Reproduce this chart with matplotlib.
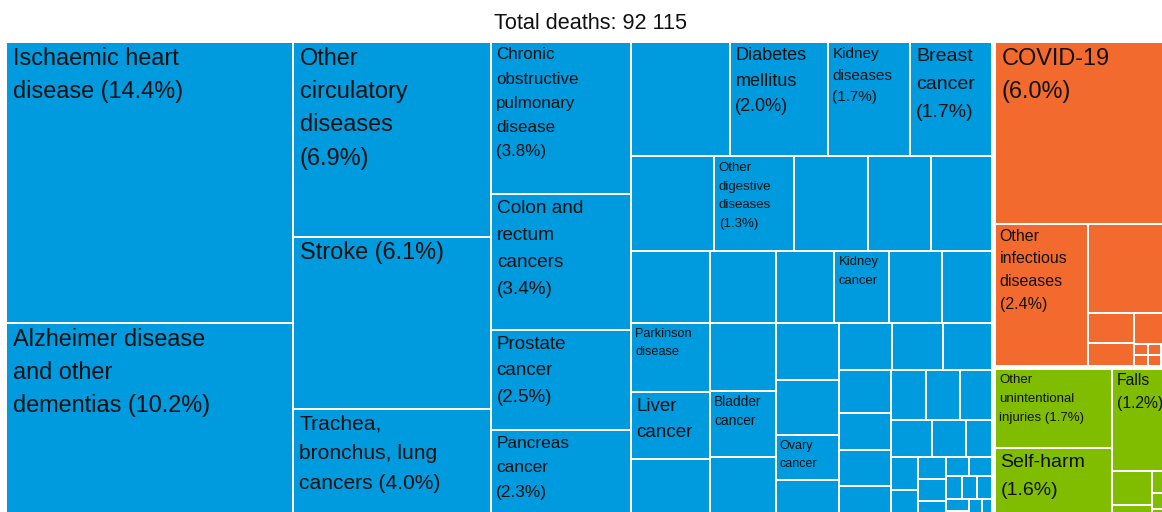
import matplotlib
matplotlib.use("Agg")
import matplotlib.pyplot as plt
from matplotlib.patches import Rectangle
from matplotlib.font_manager import FontProperties

# ---------------- data (share of total deaths, %) ----------------
total_deaths = 92115

group_names = ["Noncommunicable diseases",
               "Communicable, maternal, perinatal and nutritional conditions",
               "Injuries"]
group_colors = ["#009ADE", "#F26A2E", "#80BC00"]

# "" = cause whose name is not displayed in the chart
ncd_causes = [
    "Ischaemic heart disease", "Alzheimer disease and other dementias",
    "Other circulatory diseases", "Stroke", "Trachea, bronchus, lung cancers",
    "Chronic obstructive pulmonary disease", "Colon and rectum cancers",
    "Prostate cancer", "Pancreas cancer",
    "", "Diabetes mellitus", "Kidney diseases", "Breast cancer",
    "", "Other digestive diseases", "", "", "",
    "", "Parkinson disease", "Liver cancer", "",
    "", "", "Bladder cancer", "",
    "", "Kidney cancer", "", "",
    "", "", "Ovary cancer", "",
    "", "", "",
    "", "", "", "",
    "", "", "",
    "", "", "",
    "", "",
    "", "", "",
    "", "",
    "", "", "",
    "", "", "", "", "",
]
ncd_share = [
    14.4, 10.2, 6.9, 6.1, 4.0, 3.8, 3.4, 2.5, 2.3,
    2.02, 2.0, 1.69, 1.66,
    1.41, 1.34, 1.25, 1.06, 1.03,
    1.01, 0.97, 0.94, 0.89,
    0.85, 0.80, 0.78, 0.765,
    0.76, 0.71, 0.68, 0.645,
    0.635, 0.63, 0.51, 0.47,
    0.445, 0.425, 0.40,
    0.395, 0.345, 0.34, 0.33,
    0.32, 0.30, 0.284,
    0.27, 0.22, 0.168,
    0.164, 0.159,
    0.111, 0.107, 0.106,
    0.081, 0.080,
    0.062, 0.060, 0.058,
    0.050, 0.045, 0.040, 0.030, 0.025,
]

cmpn_causes = ["COVID-19", "Other infectious diseases", "", "", "", "", "",
               "", "", "", "", "", "", "", ""]
cmpn_share = [6.0, 2.4, 1.42, 0.258, 0.19, 0.16, 0.077,
              0.027, 0.026, 0.025, 0.024, 0.020, 0.015, 0.013, 0.012]

inj_causes = ["Other unintentional injuries", "Self-harm", "Falls",
              "", "", "", "", ""]
inj_share = [1.7, 1.6, 1.2, 0.25, 0.125, 0.098, 0.07, 0.059]

# ---------------- layout / style settings ----------------
W_PX, H_PX, DPI = 1162, 512, 100
PLOT_BOX = (7.0, 43.0, 1175.0, 521.0)   # treemap area (partly outside the image)
GROUP_GAP = 5.0
CELL_GAP = 2.0
SQUARIFY_RATIO = 1.15
FONT = "Liberation Sans"
F_MAX, F_MIN = 23.5, 7.0
LINE_H = 1.42
W_FRAC, H_FRAC = 0.73, 0.80
PCT_MIN = 1.1
TEXT_COLOR = "#111111"
TITLE_PX = 21.6


def squarify(values, x0, y0, x1, y1, ratio):
    """d3-style squarified tiling; values assumed sorted descending."""
    n = len(values)
    rects = [None] * n
    value = float(sum(values))
    i0 = 0
    while i0 < n:
        dx, dy = x1 - x0, y1 - y0
        i1 = i0
        sumv = values[i1]
        i1 += 1
        minv = maxv = sumv
        alpha = max(dy / dx, dx / dy) / (value * ratio)
        beta = sumv * sumv * alpha
        min_ratio = max(maxv / beta, beta / minv)
        while i1 < n:
            v = values[i1]
            s = sumv + v
            mn, mx = min(minv, v), max(maxv, v)
            beta = s * s * alpha
            r = max(mx / beta, beta / mn)
            if r > min_ratio:
                break
            sumv, minv, maxv, min_ratio = s, mn, mx, r
            i1 += 1
        if dx < dy:   # horizontal row at the top
            yk = y1 if i1 == n else y0 + dy * sumv / value
            x = x0
            for k in range(i0, i1):
                w = dx * values[k] / sumv
                rects[k] = (x, y0, x + w, yk)
                x += w
            y0 = yk
        else:         # vertical column at the left
            xk = x1 if i1 == n else x0 + dx * sumv / value
            y = y0
            for k in range(i0, i1):
                h = dy * values[k] / sumv
                rects[k] = (x0, y, xk, y + h)
                y += h
            x0 = xk
        value -= sumv
        i0 = i1
    return rects


fig = plt.figure(figsize=(W_PX / DPI, H_PX / DPI), dpi=DPI)
fig.patch.set_facecolor("white")
ax = fig.add_axes([0, 0, 1, 1])
ax.set_xlim(0, W_PX)
ax.set_ylim(H_PX, 0)
ax.axis("off")
renderer = fig.canvas.get_renderer()


def px2pt(px):
    return px * 72.0 / DPI


_wcache = {}


def text_width(s, fpx):
    key = (s, fpx)
    if key not in _wcache:
        prop = FontProperties(family=FONT, size=px2pt(fpx))
        w, _, _ = renderer.get_text_width_height_descent(s, prop, ismath=False)
        _wcache[key] = w
    return _wcache[key]


def wrap(words, fpx, limit):
    lines, cur = [], ""
    for wd in words:
        if text_width(wd, fpx) > limit:
            return None
        cand = wd if not cur else cur + " " + wd
        if text_width(cand, fpx) <= limit:
            cur = cand
        else:
            lines.append(cur)
            cur = wd
    if cur:
        lines.append(cur)
    return lines


def fit_label(text, w, h):
    words = text.split()
    f = F_MAX
    while f >= F_MIN:
        lines = wrap(words, f, W_FRAC * w)
        if lines is not None and len(lines) * LINE_H * f <= H_FRAC * h:
            return f, lines
        f -= 0.25
    return None, None


groups = [(ncd_causes, ncd_share, group_colors[0]),
          (cmpn_causes, cmpn_share, group_colors[1]),
          (inj_causes, inj_share, group_colors[2])]
group_totals = [sum(g[1]) for g in groups]
gorder = sorted(range(len(groups)), key=lambda i: -group_totals[i])

g = GROUP_GAP / 2
c = CELL_GAP / 2
X0, Y0, X1, Y1 = PLOT_BOX
grects = squarify([group_totals[i] for i in gorder],
                  X0 - g, Y0 - g, X1 + g, Y1 + g, SQUARIFY_RATIO)

for gi, (a0, b0, a1, b1) in zip(gorder, grects):
    a0, b0, a1, b1 = a0 + g, b0 + g, a1 - g, b1 - g
    causes, shares, color = groups[gi]
    idx = sorted(range(len(shares)), key=lambda k: -shares[k])
    crects = squarify([shares[k] for k in idx], a0 - c, b0 - c, a1 + c, b1 + c,
                      SQUARIFY_RATIO)
    for k, (x0, y0, x1, y1) in zip(idx, crects):
        vx0, vy0 = x0 + c, y0 + c
        ax.add_patch(Rectangle((vx0, vy0), (x1 - x0) - 2 * c, (y1 - y0) - 2 * c,
                               facecolor=color, edgecolor="none", linewidth=0))
        name = causes[k]
        if not name:
            continue
        text = name + (f" ({shares[k]:.1f}%)" if shares[k] >= PCT_MIN else "")
        f, lines = fit_label(text, x1 - x0, y1 - y0)
        if not lines:
            continue
        for j, line in enumerate(lines):
            ax.text(vx0 + 0.25 * f, vy0 + 3 + 0.79 * f + j * LINE_H * f, line,
                    fontsize=px2pt(f), family=FONT, color=TEXT_COLOR,
                    ha="left", va="baseline")

title = "Total deaths: " + f"{total_deaths:,}".replace(",", " ")
ax.text((X0 + X1) / 2, 29, title, fontsize=px2pt(TITLE_PX), family=FONT,
        color=TEXT_COLOR, ha="center", va="baseline")

fig.savefig("out.png", dpi=DPI, facecolor="white")
